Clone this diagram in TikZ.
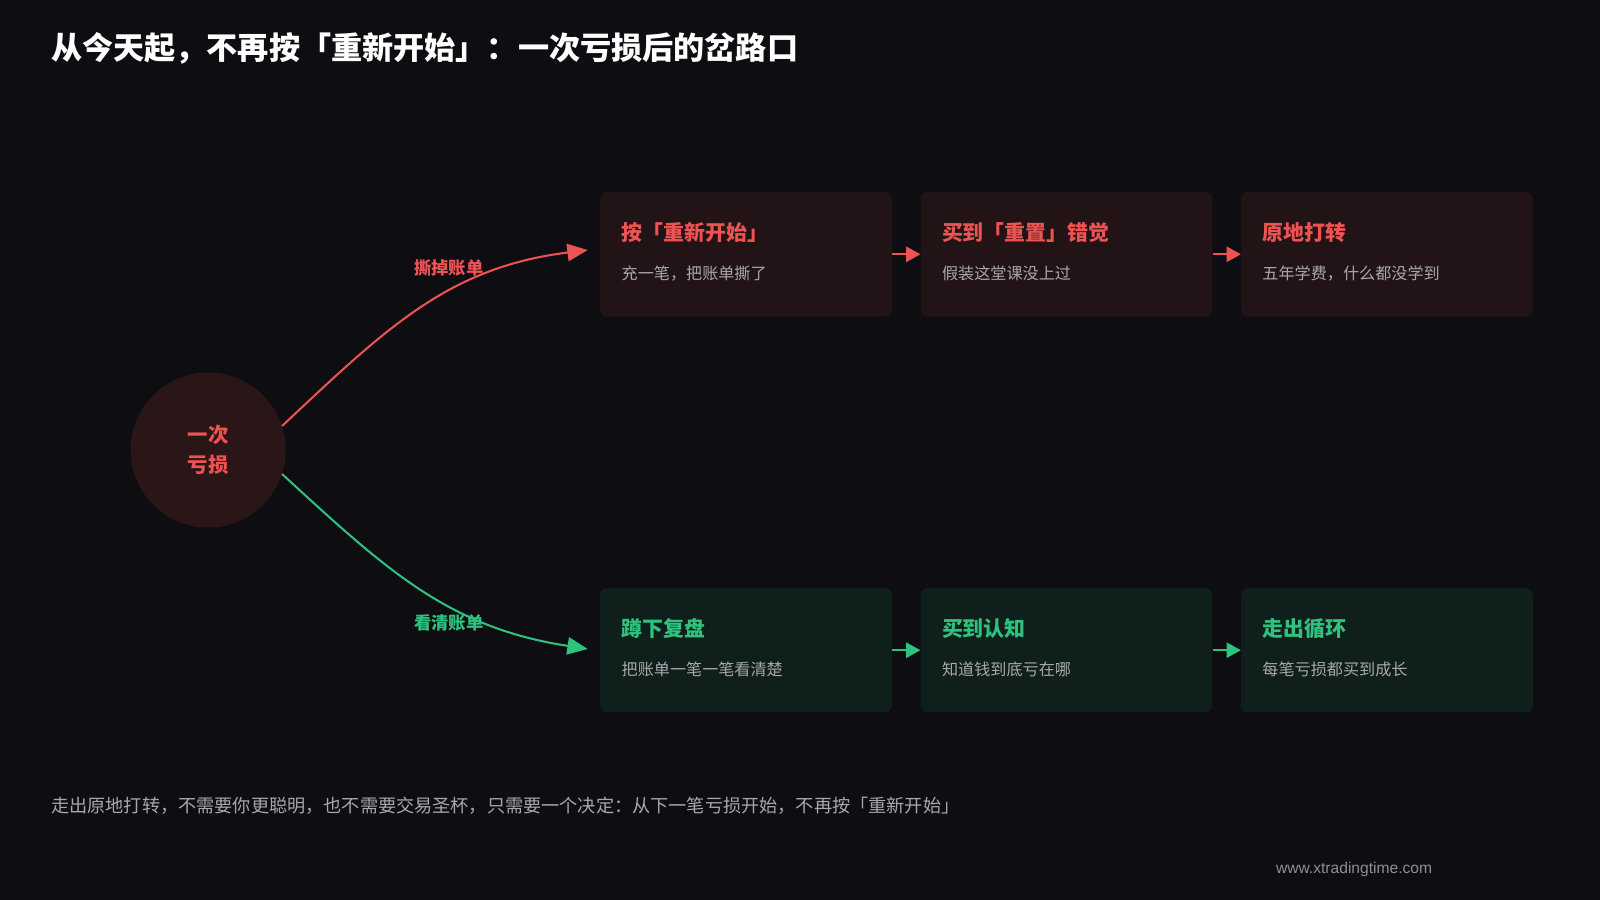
\documentclass[tikz,border=0pt]{standalone}
\usepackage{fontspec}
\setmainfont{Noto Sans CJK SC}
\newfontfamily\latinf{Liberation Sans}
\usetikzlibrary{arrows.meta}
\definecolor{bg}{HTML}{0D0D12}
\definecolor{red}{HTML}{EE5252}
\definecolor{grn}{HTML}{2EC27E}
\definecolor{rbox}{HTML}{221416}
\definecolor{gbox}{HTML}{0F1F1B}
\definecolor{circ}{HTML}{2A1517}
\definecolor{sub}{HTML}{A8A8AC}
\begin{document}
\begin{tikzpicture}[x=1pt,y=-1pt,
 box/.style={rounded corners=7pt,minimum width=286pt,minimum height=122pt,anchor=north west,inner sep=0},
 rb/.style={box,fill=rbox}, gb/.style={box,fill=gbox},
 ttl/.style={anchor=west,font=\fontsize{20.5}{24}\selectfont\bfseries},
 st/.style={anchor=west,text=sub,font=\fontsize{15.8}{18}\selectfont},
 ra/.style={red,line width=2pt,-{Triangle[length=20pt,width=17pt]}},
 ga/.style={grn,line width=2pt,-{Triangle[length=20pt,width=17pt]}},
 rs/.style={red,line width=2pt,-{Triangle[length=14pt,width=15pt]}},
 gs/.style={grn,line width=2pt,-{Triangle[length=14pt,width=15pt]}}]
\fill[bg] (0,0) rectangle (1568,882);
\node[anchor=west,text=white,font=\fontsize{30.5}{34}\selectfont\bfseries,inner sep=0] (title) at (50,47) {从今天起，不再按「重新开始」：一次亏损后的岔路口};
\node[circle,fill=circ,minimum size=152pt,inner sep=0,text=red,align=center,font=\fontsize{20}{29}\selectfont\bfseries] (c) at (204,441) {一次\\亏损};
\node[rb] (r1) at (588,188) {}; \node[rb] (r2) at (902,188) {}; \node[rb] (r3) at (1216,188) {};
\node[gb] (g1) at (588,576) {}; \node[gb] (g2) at (902,576) {}; \node[gb] (g3) at (1216,576) {};
\foreach \n/\t/\s in {r1/按「重新开始」/充一笔，把账单撕了, r2/买到「重置」错觉/假装这堂课没上过, r3/原地打转/五年学费，什么都没学到}{
 \node[ttl,text=red,inner sep=0] at ([xshift=21pt,yshift=-40pt]\n.north west) {\t};
 \node[st,inner sep=0] at ([xshift=21pt,yshift=-80pt]\n.north west) {\s};}
\foreach \n/\t/\s in {g1/蹲下复盘/把账单一笔一笔看清楚, g2/买到认知/知道钱到底亏在哪, g3/走出循环/每笔亏损都买到成长}{
 \node[ttl,text=grn,inner sep=0] at ([xshift=21pt,yshift=-40pt]\n.north west) {\t};
 \node[st,inner sep=0] at ([xshift=21pt,yshift=-80pt]\n.north west) {\s};}
\draw[rs] (r1.east) -- (r2.west); \draw[rs] (r2.east) -- (r3.west);
\draw[gs] (g1.east) -- (g2.west); \draw[gs] (g2.east) -- (g3.west);
\coordinate (ra) at (576,245); \coordinate (ga) at (576,636);
\draw[ra] (c.18) .. controls (380,320) and (440,262) .. (ra);
\draw[ga] (c.-18) .. controls (380,560) and (440,615) .. (ga);
\node[text=red,font=\fontsize{17}{20}\selectfont\bfseries] (l1) at (440,263) {撕掉账单};
\node[text=grn,font=\fontsize{17}{20}\selectfont\bfseries] (l2) at (440,610) {看清账单};
\node[anchor=west,text=sub,font=\fontsize{17.8}{20}\selectfont,inner sep=0] (foot) at (50,790) {走出原地打转，不需要你更聪明，也不需要交易圣杯，只需要一个决定：从下一笔亏损开始，不再按「重新开始」};
\node[text=sub!85!black,font=\latinf\fontsize{15.3}{18}\selectfont] (url) at (1327,852) {www.xtradingtime.com};
\end{tikzpicture}
\end{document}
